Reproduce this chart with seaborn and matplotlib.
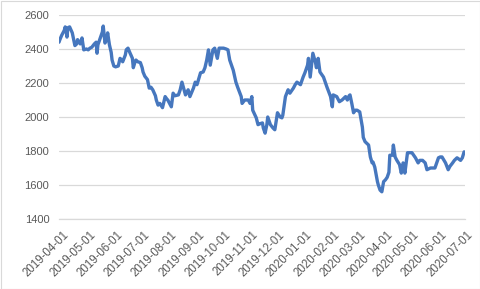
import matplotlib
matplotlib.use("Agg")
import matplotlib.pyplot as plt
import matplotlib.transforms as mtransforms
from matplotlib.patches import Rectangle
import numpy as np
import pandas as pd
import seaborn as sns

# ---- data ----
start_date = "2019-04-01"
day_offsets = [0, 1, 3, 6, 7, 8, 9, 10, 12, 15, 16, 18, 20, 21, 24, 26, 28, 31, 33, 35,
               37, 40, 42, 43, 44, 46, 49, 50, 52, 54, 55, 57, 59, 60, 62, 64, 67, 69, 71, 72,
               75, 76, 78, 80, 83, 84, 86, 87, 89, 92, 94, 95, 97, 100, 102, 104, 106, 109, 110, 112,
               114, 117, 120, 122, 123, 127, 129, 131, 135, 137, 139, 143, 146, 148, 152, 154, 156, 160, 163, 165,
               167, 169, 171, 173, 174, 176, 179, 181, 186, 189, 191, 193, 197, 200, 202, 206, 207, 210, 214, 216,
               218, 219, 223, 225, 227, 230, 231, 233, 235, 236, 239, 242, 244, 247, 250, 252, 253, 256, 259, 261,
               265, 267, 269, 273, 276, 278, 281, 282, 284, 286, 287, 290, 291, 293, 295, 299, 301, 303, 307, 309,
               310, 312, 314, 317, 320, 324, 326, 328, 329, 331, 333, 335, 337, 340, 343, 344, 346, 350, 352, 354,
               355, 357, 360, 361, 363, 365, 367, 369, 371, 373, 374, 377, 378, 380, 382, 385, 387, 389, 391, 394,
               397, 399, 403, 406, 408, 411, 414, 416, 420, 422, 425, 429, 431, 433, 437, 440, 442, 445, 447, 450,
               454, 456, 458]
values = [2440, 2455, 2480, 2510, 2530, 2510, 2470, 2525, 2530, 2495, 2470, 2420, 2430, 2455, 2430, 2465, 2395, 2400, 2395, 2405,
          2410, 2430, 2440, 2375, 2425, 2455, 2500, 2535, 2435, 2455, 2495, 2425, 2380, 2335, 2300, 2295, 2300, 2345, 2335, 2325,
          2365, 2395, 2405, 2380, 2345, 2290, 2325, 2335, 2325, 2320, 2290, 2265, 2240, 2220, 2170, 2175, 2160, 2125, 2100, 2070,
          2080, 2055, 2120, 2105, 2100, 2060, 2140, 2125, 2130, 2160, 2205, 2130, 2160, 2120, 2170, 2205, 2190, 2260, 2265, 2290,
          2335, 2395, 2305, 2365, 2395, 2405, 2345, 2405, 2405, 2400, 2395, 2335, 2275, 2205, 2175, 2120, 2080, 2100, 2100, 2080,
          2120, 2040, 1995, 1955, 1960, 1965, 1935, 1905, 1955, 2000, 1955, 1935, 1925, 2025, 2000, 1995, 2010, 2120, 2160, 2140,
          2170, 2190, 2205, 2190, 2235, 2260, 2305, 2345, 2235, 2325, 2375, 2320, 2290, 2345, 2265, 2235, 2205, 2175, 2120, 2060,
          2130, 2125, 2120, 2090, 2100, 2120, 2100, 2125, 2130, 2080, 2025, 2040, 2040, 2030, 1940, 1880, 1855, 1835, 1765, 1730,
          1735, 1705, 1620, 1600, 1570, 1560, 1620, 1630, 1645, 1675, 1775, 1775, 1835, 1765, 1745, 1720, 1670, 1730, 1670, 1790,
          1790, 1790, 1760, 1730, 1745, 1745, 1730, 1690, 1700, 1700, 1700, 1760, 1765, 1765, 1730, 1690, 1710, 1730, 1745, 1760,
          1745, 1760, 1795]
tick_dates = ["2019-04-01", "2019-05-01", "2019-06-01", "2019-07-01", "2019-08-01", "2019-09-01",
              "2019-10-01", "2019-11-01", "2019-12-01", "2020-01-01", "2020-02-01", "2020-03-01",
              "2020-04-01", "2020-05-01", "2020-06-01", "2020-07-01"]
y_ticks = [1400, 1600, 1800, 2000, 2200, 2400, 2600]

# ---- build frame ----
df = pd.DataFrame({
    "date": pd.to_datetime(start_date) + pd.to_timedelta(day_offsets, unit="D"),
    "value": values,
})

sns.set_style("white")
plt.rcParams["font.family"] = ["Liberation Sans", "DejaVu Sans"]

fig = plt.figure(figsize=(4.81, 2.89), dpi=100)
ax = fig.add_axes([59 / 481, 1 - 219 / 289, (465 - 59) / 481, (219 - 15) / 289])

sns.lineplot(data=df, x="date", y="value", ax=ax, color="#4677BE", linewidth=2.4)

grid_c = "#D9D9D9"
text_c = "#595959"
ax.set_ylim(1400, 2600)
ax.set_yticks(y_ticks)
ax.set_xlim(pd.Timestamp(start_date), pd.Timestamp(start_date) + pd.Timedelta(days=459))
tick_ts = pd.to_datetime(tick_dates)
ax.set_xticks(tick_ts)
ax.set_xticklabels([])
ax.tick_params(axis="x", length=4, color=grid_c, width=0.8, pad=2)
ax.tick_params(axis="y", length=0, pad=7, labelsize=8, labelcolor=text_c)

# rotated date labels, placed like the reference
base = mtransforms.blended_transform_factory(ax.transData, ax.transAxes)
offset = mtransforms.ScaledTranslation(4 / 100, -10 / 100, fig.dpi_scale_trans)
for ts, lab in zip(tick_ts, tick_dates):
    ax.text(ts, 0, lab, transform=base + offset, rotation=45, ha="right", va="top",
            rotation_mode="anchor", fontsize=8.3, color=text_c, clip_on=False)

ax.yaxis.grid(True, color=grid_c, linewidth=0.9)
ax.set_axisbelow(True)
for s in ["left", "right", "top"]:
    ax.spines[s].set_visible(False)
ax.spines["bottom"].set_color(grid_c)
ax.spines["bottom"].set_linewidth(0.9)
ax.set_xlabel("")
ax.set_ylabel("")

# chart-area border
fig.patches.append(Rectangle((0.5 / 481, 0.5 / 289), 1 - 1.5 / 481, 1 - 1.5 / 289,
                             transform=fig.transFigure, fill=False,
                             edgecolor=grid_c, linewidth=0.8))

fig.savefig("out.png", dpi=100)
